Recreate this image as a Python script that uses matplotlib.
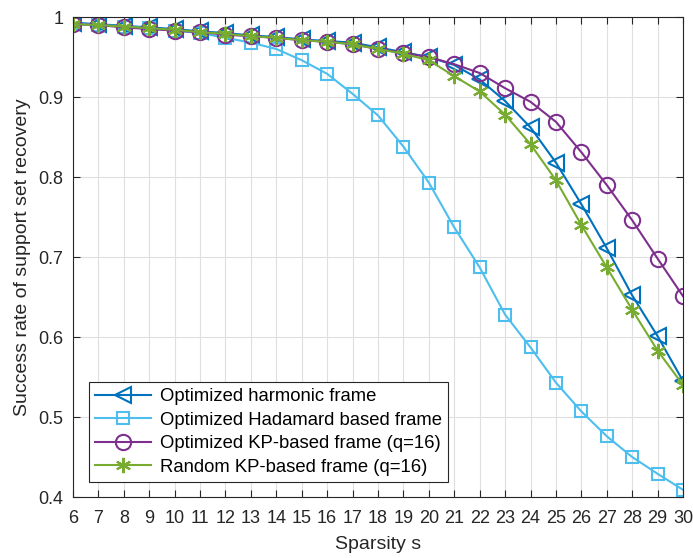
import matplotlib.pyplot as plt
import numpy as np

plt.rcParams["font.family"] = ["Liberation Sans", "DejaVu Sans"]

sparsity = list(range(6, 31))

harmonic = [0.993, 0.991, 0.989, 0.987, 0.985, 0.982, 0.980, 0.977, 0.975, 0.972,
            0.970, 0.968, 0.962, 0.956, 0.950, 0.940, 0.922, 0.895, 0.862, 0.818,
            0.766, 0.711, 0.652, 0.601, 0.545]
hadamard = [0.992, 0.990, 0.988, 0.986, 0.983, 0.980, 0.974, 0.968, 0.960, 0.946,
            0.929, 0.904, 0.877, 0.838, 0.793, 0.737, 0.687, 0.628, 0.587, 0.543,
            0.507, 0.476, 0.450, 0.429, 0.409]
kp_opt = [0.991, 0.990, 0.987, 0.985, 0.983, 0.981, 0.978, 0.976, 0.974, 0.971,
          0.969, 0.966, 0.960, 0.955, 0.950, 0.941, 0.930, 0.911, 0.894, 0.869,
          0.831, 0.790, 0.746, 0.698, 0.651]
kp_rand = [0.991, 0.990, 0.988, 0.986, 0.984, 0.981, 0.979, 0.976, 0.974, 0.971,
           0.969, 0.966, 0.960, 0.954, 0.946, 0.926, 0.907, 0.878, 0.841, 0.796,
           0.740, 0.687, 0.634, 0.583, 0.540]

labels = ["Optimized harmonic frame", "Optimized Hadamard based frame",
          "Optimized KP-based frame (q=16)", "Random KP-based frame (q=16)"]

fig = plt.figure(figsize=(6.93, 5.58), dpi=100)
ax = fig.add_axes([0.1053, 0.1093, 0.8803, 0.8602])

ax.plot(sparsity, harmonic, color="#0072BD", marker="<", markersize=11,
        markerfacecolor="none", markeredgewidth=1.5, linewidth=1.5, label=labels[0])
ax.plot(sparsity, hadamard, color="#4DBEEE", marker="s", markersize=9,
        markerfacecolor="none", markeredgewidth=1.5, linewidth=1.5, label=labels[1])
ax.plot(sparsity, kp_opt, color="#7E2F8E", marker="o", markersize=11,
        markerfacecolor="none", markeredgewidth=1.5, linewidth=1.5, label=labels[2])
ax.plot(sparsity, kp_rand, color="#77AC30", marker=(6, 2, 0), markersize=11,
        markeredgewidth=1.5, linewidth=1.5, label=labels[3])

ax.set_xlim(6, 30)
ax.set_ylim(0.4, 1.0)
ax.set_xticks(sparsity)
ax.set_yticks(np.arange(0.4, 1.01, 0.1))
ax.set_yticklabels(["0.4", "0.5", "0.6", "0.7", "0.8", "0.9", "1"])
ax.tick_params(direction="in", top=True, right=True, labelsize=13,
               length=5, width=0.8, colors="#262626")
ax.tick_params(axis="x", pad=9)
ax.tick_params(axis="y", pad=7)
ax.grid(True, color="#dfdfdf", linewidth=0.8)
ax.set_axisbelow(True)
for sp in ax.spines.values():
    sp.set_color("#262626")
    sp.set_linewidth(0.8)

ax.set_xlabel("Sparsity s", fontsize=14, color="#262626", labelpad=7)
ax.set_ylabel("Success rate of support set recovery", fontsize=14, color="#262626",
              labelpad=5)

leg = ax.legend(loc="lower left", bbox_to_anchor=(0.026, 0.031), borderaxespad=0,
                fontsize=13.3, fancybox=False, edgecolor="#262626", framealpha=1,
                handlelength=3.0, labelspacing=0.35, borderpad=0.35,
                handletextpad=0.5)
leg.get_frame().set_linewidth(0.8)

plt.savefig("out.png", dpi=100)
plt.close()
